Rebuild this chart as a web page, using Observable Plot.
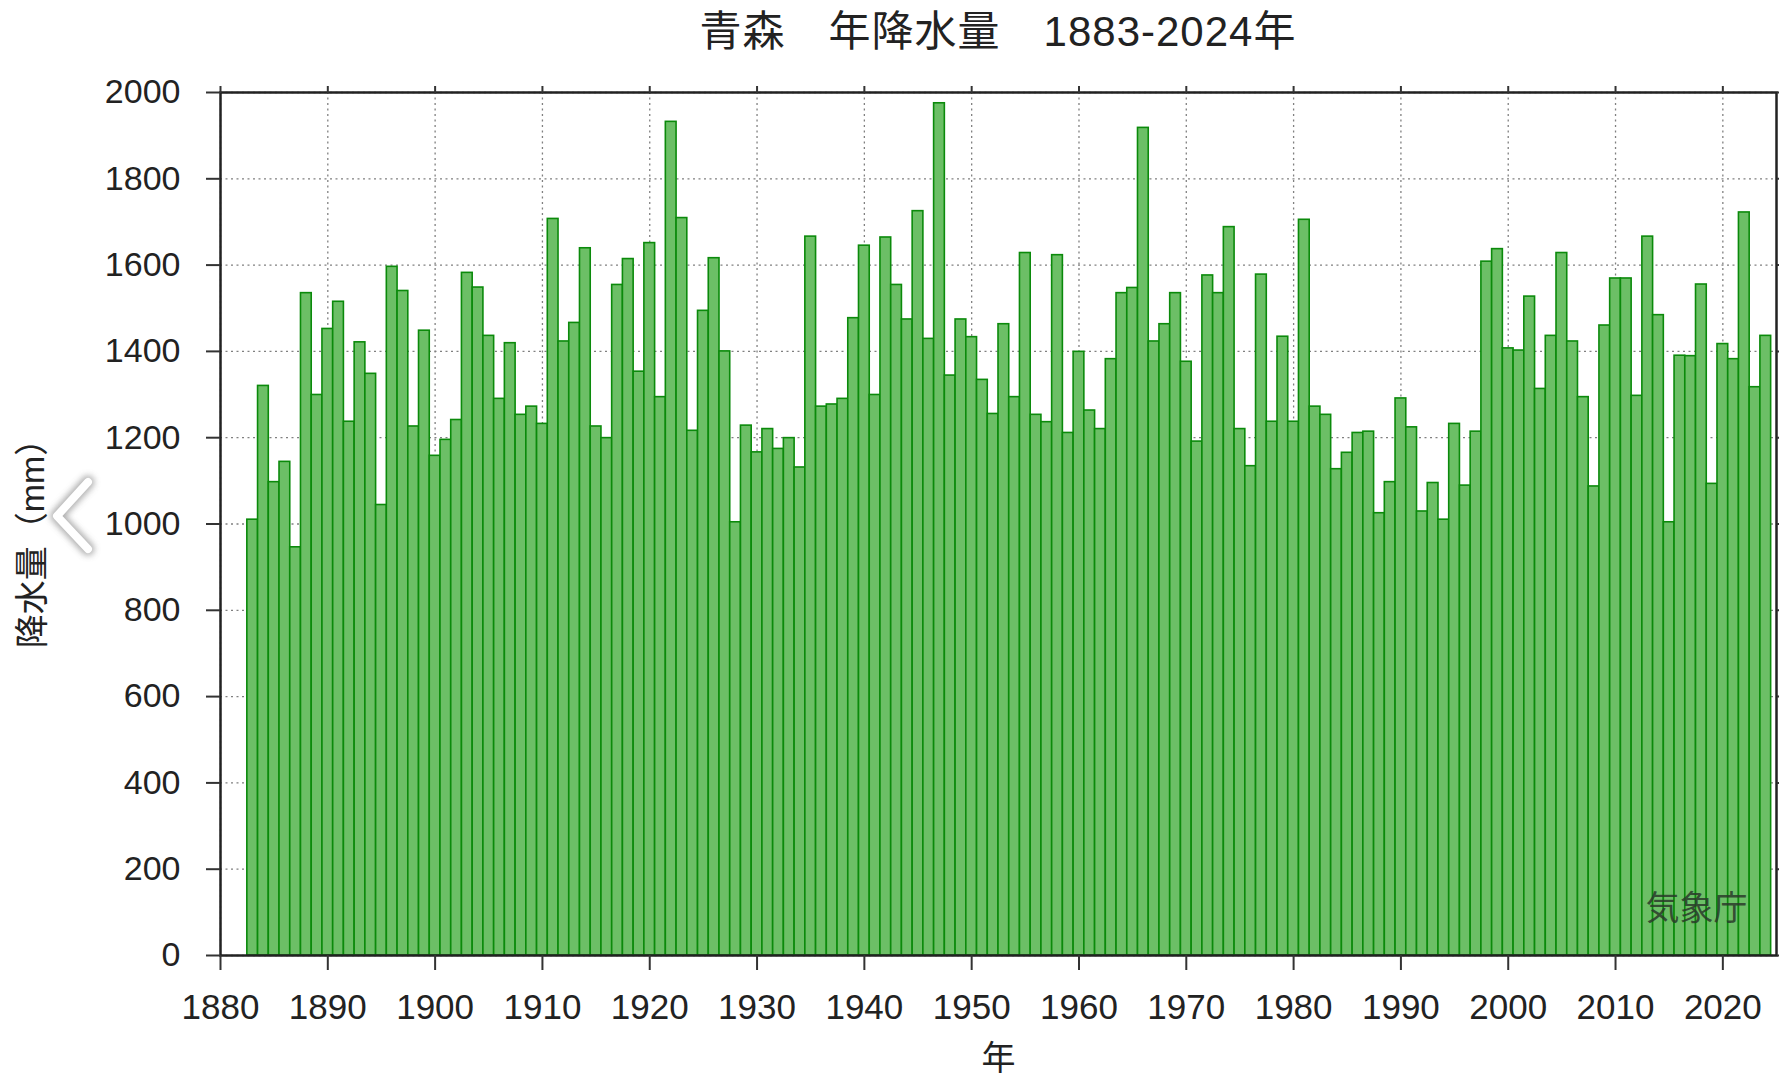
<!DOCTYPE html>
<html>
<head>
<meta charset="utf-8">
<script src="https://cdn.jsdelivr.net/npm/d3@7"></script>
<script src="https://cdn.jsdelivr.net/npm/@observablehq/plot@0.6"></script>
<style>
  html, body { margin: 0; padding: 0; background: #fff; }
  #wrap { position: relative; width: 1779px; height: 1076px; overflow: hidden; background: #fff; }
  #title { position: absolute; left: 220px; top: 0; width: 1556px; height: 70px; line-height: 64px;
           text-align: center; font-family: "Liberation Sans", "Noto Sans CJK JP", sans-serif;
           font-size: 42px; color: #222; letter-spacing: 1px; white-space: pre; }
  #chart { position: absolute; left: 0; top: 70px; }
  #chev { position: absolute; left: 0; top: 0; pointer-events: none; }
</style>
</head>
<body>
<div id="wrap">
  <div id="title"></div>
  <div id="chart"></div>
</div>
<script>
// ---- data ----
const titleText = "青森　年降水量　1883-2024年";
const yLabel = "降水量（mm）";
const xLabel = "年";
const sourceLabel = "気象庁";
const firstYear = 1883;
const precip = [
  1010, 1320, 1097, 1144, 946, 1535, 1299,                 // 1883-1889
  1452, 1515, 1237, 1421, 1348, 1044, 1596, 1540, 1226, 1448, // 1890s
  1158, 1195, 1241, 1582, 1548, 1436, 1290, 1419, 1253, 1272, // 1900s
  1232, 1707, 1423, 1466, 1639, 1226, 1199, 1554, 1614, 1353, // 1910s
  1651, 1294, 1932, 1709, 1216, 1494, 1616, 1400, 1004, 1228, // 1920s
  1166, 1220, 1174, 1199, 1131, 1666, 1272, 1277, 1290, 1477, // 1930s
  1645, 1299, 1664, 1554, 1474, 1725, 1429, 1975, 1344, 1474, // 1940s
  1433, 1334, 1255, 1463, 1294, 1628, 1253, 1236, 1623, 1211, // 1950s
  1399, 1263, 1220, 1382, 1535, 1547, 1918, 1423, 1463, 1535, // 1960s
  1376, 1191, 1576, 1535, 1688, 1220, 1134, 1578, 1237, 1434, // 1970s
  1237, 1705, 1272, 1253, 1127, 1165, 1211, 1214, 1025, 1097, // 1980s
  1291, 1224, 1029, 1095, 1010, 1232, 1089, 1214, 1608, 1637, // 1990s
  1407, 1402, 1527, 1313, 1436, 1628, 1423, 1294, 1087, 1460, // 2000s
  1569, 1569, 1297, 1666, 1484, 1004, 1390, 1389, 1555, 1093, // 2010s
  1417, 1382, 1722, 1317, 1436                              // 2020-2024
];
const xTicks = [1880, 1890, 1900, 1910, 1920, 1930, 1940, 1950, 1960, 1970, 1980, 1990, 2000, 2010, 2020];
const yTicks = [0, 200, 400, 600, 800, 1000, 1200, 1400, 1600, 1800, 2000];
const xDomain = [1880, 2025];
const yDomain = [0, 2000];

const table = precip.map((v, i) => ({year: firstYear + i, value: v}));

document.getElementById("title").textContent = titleText;

const font = "'Liberation Sans', 'Noto Sans CJK JP', sans-serif";
const gridStyle = {stroke: "#808080", strokeOpacity: 1, strokeWidth: 1.3, strokeDasharray: "2,3.5"};

const chart = Plot.plot({
  width: 1779,
  height: 1006,
  marginTop: 22,
  marginBottom: 121,
  marginLeft: 220,
  marginRight: 3,
  style: {fontFamily: font, color: "#222", background: "#fff", overflow: "visible"},
  x: {domain: xDomain, type: "linear"},
  y: {domain: yDomain},
  marks: [
    Plot.gridX(xTicks, gridStyle),
    Plot.gridY(yTicks, gridStyle),
    Plot.rect(table, {
      x1: d => d.year - 0.5,
      x2: d => d.year + 0.5,
      y1: 0,
      y2: "value",
      fill: "#6cbf66",
      stroke: "#0b8a0b",
      strokeWidth: 1.6
    }),
    Plot.frame({stroke: "#222", strokeWidth: 2.5}),
    Plot.axisX(xTicks, {anchor: "bottom", tickSize: 15, tickPadding: 24, fontSize: 35,
      tickFormat: "d", label: null, stroke: "#333", strokeWidth: 2, fill: "#222"}),
    Plot.axisX(xTicks, {anchor: "top", tickSize: 7, tickFormat: () => "", label: null,
      stroke: "#333", strokeWidth: 2}),
    Plot.axisY(yTicks, {anchor: "left", tickSize: 14, tickPadding: 26, fontSize: 34,
      tickFormat: "d", label: null, stroke: "#333", strokeWidth: 2, fill: "#222"}),
    Plot.axisY(yTicks, {anchor: "right", tickSize: 6, tickFormat: () => "", label: null,
      stroke: "#333", strokeWidth: 2}),
    Plot.text([yLabel], {frameAnchor: "left", text: d => d, rotate: -90, dx: -187, dy: 11,
      fontSize: 34, fill: "#222", textAnchor: "middle", lineAnchor: "middle"}),
    Plot.text([xLabel], {frameAnchor: "bottom", text: d => d, dy: 104,
      fontSize: 34, fill: "#222", lineAnchor: "middle"}),
    Plot.text([sourceLabel], {frameAnchor: "bottom-right", text: d => d, dx: -29, dy: -46,
      fontSize: 34, fill: "#2a3a2a", fillOpacity: 0.85, textAnchor: "end", lineAnchor: "middle"})
  ]
});
document.getElementById("chart").appendChild(chart);

// viewer overlay chevron (screenshot artifact)
const ns = "http://www.w3.org/2000/svg";
const chev = document.createElementNS(ns, "svg");
chev.setAttribute("id", "chev");
chev.setAttribute("width", "160");
chev.setAttribute("height", "620");
chev.innerHTML = `
  <defs><filter id="blur" x="-50%" y="-50%" width="200%" height="200%"><feGaussianBlur stdDeviation="3"/></filter></defs>
  <polyline points="88,482 57,516 88,549" fill="none" stroke="#9a9a9a" stroke-width="13" stroke-linecap="round" stroke-linejoin="round" filter="url(#blur)" opacity="0.8"/>
  <polyline points="88,482 57,516 88,549" fill="none" stroke="#ffffff" stroke-width="8" stroke-linecap="round" stroke-linejoin="round"/>`;
document.getElementById("wrap").appendChild(chev);
</script>
</body>
</html>
